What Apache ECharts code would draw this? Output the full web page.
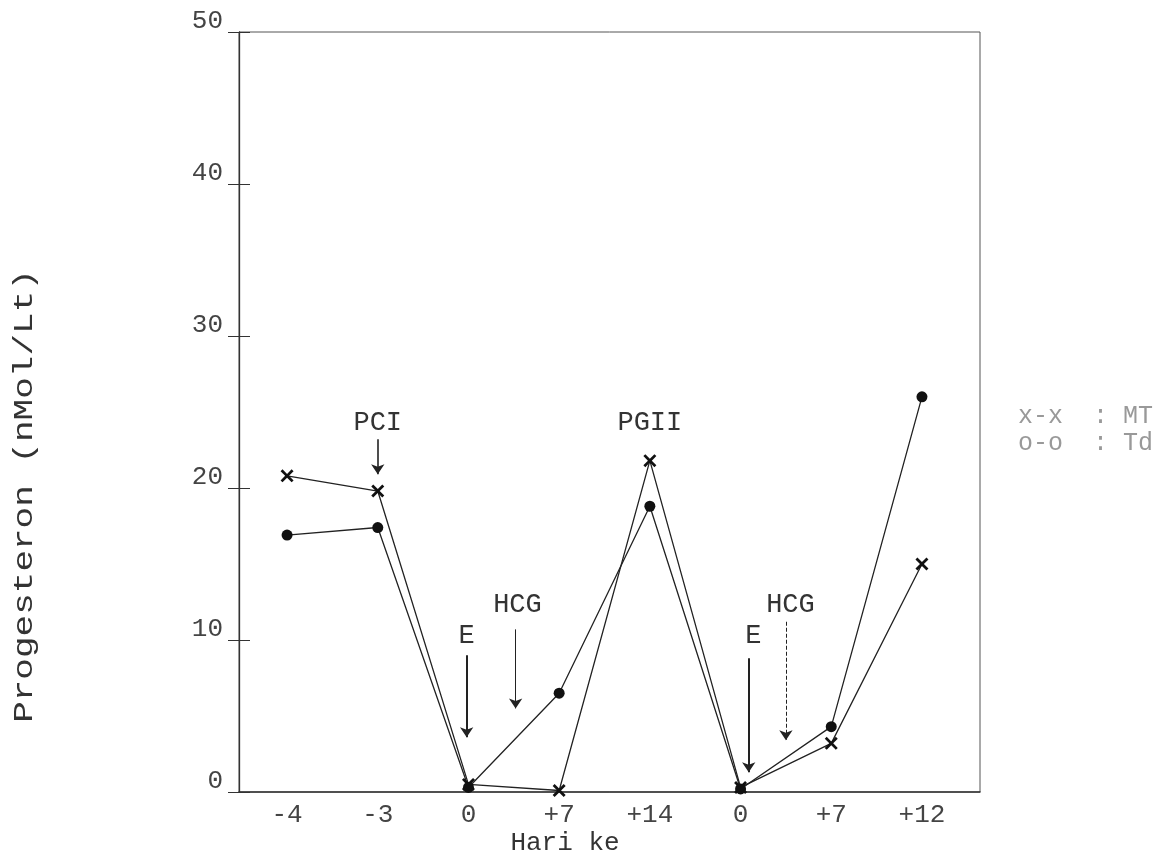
<!DOCTYPE html>
<html>
<head>
<meta charset="utf-8">
<script src="https://cdn.jsdelivr.net/npm/echarts@6/dist/echarts.min.js"></script>
<style>
  html, body { margin: 0; padding: 0; background: #fff; }
  #main { width: 1160px; height: 854px; }
</style>
</head>
<body>
<div id="main"></div>
<script>
// hari ke (sumbu x)
var categories = ["-4", "-3", "0", "+7", "+14", "0", "+7", "+12"];
// progesteron nMol/Lt
var mtValues = [20.8, 19.8, 0.5, 0.1, 21.8, 0.3, 3.2, 15.0];
var tdValues = [16.9, 17.4, 0.3, 6.5, 18.8, 0.2, 4.3, 26.0];
var yTicks = [0, 10, 20, 30, 40, 50];

var FONT = "Liberation Mono";
var crossPath = "path://M1.5,0L5,3.5L8.5,0L10,1.5L6.5,5L10,8.5L8.5,10L5,6.5L1.5,10L0,8.5L3.5,5L0,1.5Z";

function toPoints(values) {
  return values.map(function (v, i) { return [i, v]; });
}

// anotasi: teks dan panah
var labels = [
  { text: "PCI", coord: [1, 24.3] },
  { text: "PGII", coord: [4, 24.3] },
  { text: "E", coord: [1.98, 10.3] },
  { text: "HCG", coord: [2.54, 12.3] },
  { text: "E", coord: [5.14, 10.3] },
  { text: "HCG", coord: [5.55, 12.3] }
];
var arrows = [
  { from: [1, 23.2], to: [1, 20.9], width: 1.6, type: "solid" },
  { from: [1.98, 9.0], to: [1.98, 3.6], width: 2, type: "solid" },
  { from: [2.52, 10.7], to: [2.52, 5.5], width: 1, type: "solid" },
  { from: [5.09, 8.8], to: [5.09, 1.3], width: 2, type: "solid" },
  { from: [5.5, 11.2], to: [5.5, 3.4], width: 1, type: "dashed" }
];

var chart = echarts.init(document.getElementById("main"));

var option = {
  animation: false,
  backgroundColor: "#fff",
  grid: {
    left: 239, right: 180, top: 32, bottom: 62,
    show: true, borderColor: "#555", borderWidth: 1
  },
  xAxis: {
    type: "value",
    min: -0.53,
    max: 7.64,
    axisLine: { onZero: false, lineStyle: { color: "#333", width: 1.5 } },
    axisTick: { show: false },
    splitLine: { show: false },
    axisLabel: {
      customValues: categories.map(function (c, i) { return i; }),
      formatter: function (v) { return categories[v]; },
      fontFamily: FONT, fontSize: 26, color: "#444", margin: 10
    }
  },
  yAxis: [
    {
      type: "value", min: 0, max: 50, interval: 10,
      axisLine: { show: true, onZero: false, lineStyle: { color: "#333", width: 1.3 } },
      axisTick: { show: true, length: 11, lineStyle: { color: "#333" } },
      splitLine: { show: false },
      axisLabel: {
        fontFamily: FONT, fontSize: 26, color: "#444", margin: 16,
        verticalAlign: "bottom", lineHeight: 22,
        formatter: function (v) { return yTicks.indexOf(v) >= 0 ? String(v) : ""; }
      }
    },
    {
      type: "value", min: 0, max: 50, interval: 10, position: "left",
      axisLine: { show: false, onZero: false },
      axisTick: { show: true, inside: true, length: 11, lineStyle: { color: "#333" } },
      axisLabel: { show: false },
      splitLine: { show: false }
    }
  ],
  series: [
    {
      name: "MT",
      type: "line",
      data: toPoints(mtValues),
      symbol: crossPath,
      symbolSize: 13,
      itemStyle: { color: "#111" },
      lineStyle: { color: "#222", width: 1.3 },
      markPoint: {
        silent: true,
        symbol: "circle",
        symbolSize: 0,
        label: {
          show: true, position: "inside",
          fontFamily: FONT, fontSize: 27, color: "#333",
          formatter: function (p) { return p.name; }
        },
        data: labels.map(function (l) { return { name: l.text, coord: l.coord }; })
      },
      markLine: {
        silent: true,
        symbol: ["none", "arrow"],
        symbolSize: 10,
        label: { show: false },
        data: arrows.map(function (a) {
          return [
            { coord: a.from, lineStyle: { color: "#222", width: a.width, type: a.type } },
            { coord: a.to }
          ];
        })
      }
    },
    {
      name: "Td",
      type: "line",
      data: toPoints(tdValues),
      symbol: "circle",
      symbolSize: 11,
      itemStyle: { color: "#111" },
      lineStyle: { color: "#222", width: 1.3 }
    }
  ],
  graphic: [
    {
      type: "text", x: 565, y: 843,
      style: { text: "Hari ke", font: "26px " + FONT, fill: "#333", align: "center", verticalAlign: "middle" }
    },
    {
      type: "text", x: 25, y: 496, rotation: Math.PI / 2, scaleY: 0.75,
      style: { text: "Progesteron (nMol/Lt)", font: "36px " + FONT, fill: "#333", align: "center", verticalAlign: "middle" }
    },
    {
      type: "text", x: 1018, y: 416,
      style: { text: "x-x  : MT", font: "25px " + FONT, fill: "#999", align: "left", verticalAlign: "middle" }
    },
    {
      type: "text", x: 1018, y: 443,
      style: { text: "o-o  : Td", font: "25px " + FONT, fill: "#999", align: "left", verticalAlign: "middle" }
    }
  ]
};

chart.setOption(option);
</script>
</body>
</html>
